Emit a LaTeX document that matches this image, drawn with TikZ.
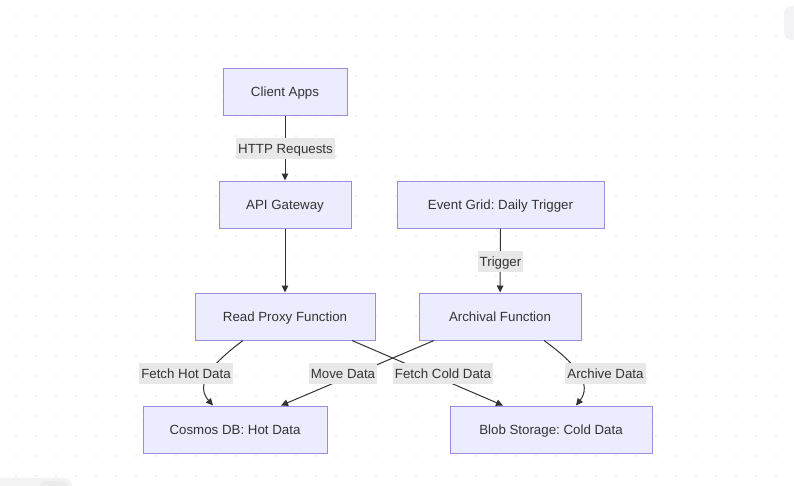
\documentclass[tikz,border=0pt]{standalone}
\usepackage{fontspec}
\setmainfont{Liberation Sans}
\frenchspacing
\usetikzlibrary{arrows.meta}
\definecolor{nodefill}{HTML}{ECECFF}
\definecolor{nodeline}{HTML}{A08AE0}
\definecolor{edgecol}{HTML}{333333}
\definecolor{lblfill}{HTML}{E8E8E8}
\definecolor{dotcol}{HTML}{E2E2E2}
\definecolor{txtcol}{HTML}{333333}
\tikzset{
  box/.style={draw=nodeline, fill=nodefill, line width=1pt, minimum height=47pt,
    inner sep=0pt, text height=9.6pt, text depth=0pt,
    font=\fontsize{13.3}{16}\selectfont, text=txtcol},
  lbl/.style={fill=lblfill, inner xsep=2pt, inner ysep=0pt, minimum height=21pt,
    text height=9.6pt, text depth=0pt,
    font=\fontsize{13.3}{16}\selectfont, text=txtcol},
  edge/.style={draw=edgecol, line width=1pt, -{Triangle[length=7pt,width=6.5pt]}},
}
\begin{document}
\begin{tikzpicture}[x=1pt,y=-1pt]
\useasboundingbox (0,0) rectangle (794,485);
\fill[white] (0,0) rectangle (794,485);
\foreach \gx in {16,36,...,796} {
  \foreach \gy in {16,36,...,476} {
    \fill[dotcol] (\gx,\gy) circle (0.8);
  }
}
\fill[fill={rgb,255:red,242;green,242;blue,247}, rounded corners=8pt] (784,6) rectangle (805,40);
\fill[fill={rgb,255:red,243;green,243;blue,243}, rounded corners=8pt] (-10,478) rectangle (72,495);
\fill[fill={rgb,255:red,236;green,236;blue,236}, rounded corners=6pt] (40,481) rectangle (68,495);

\node[box, minimum width=124pt] (ca) at (285,92) {Client Apps};
\node[box, minimum width=132pt] (ag) at (285,204.5) {API Gateway};
\node[box, minimum width=207pt] (eg) at (500.5,204.5) {Event Grid: Daily Trigger};
\node[box, minimum width=180pt] (rp) at (285,316.5) {Read Proxy Function};
\node[box, minimum width=162pt] (af) at (500,316.5) {Archival Function};
\node[box, minimum width=184pt] (cd) at (235,429.5) {Cosmos DB: Hot Data};
\node[box, minimum width=202pt] (bs) at (551,429.5) {Blob Storage: Cold Data};

\draw[edge] (ca) -- (ag);
\draw[edge] (ag) -- (rp);
\draw[edge] (eg) -- (af);
\draw[edge] ([xshift=-42pt]rp.south) .. controls (210,365) and (195,385) .. ([xshift=-22pt]cd.north);
\draw[edge] ([xshift=67pt]rp.south) -- ([xshift=-48pt]bs.north);
\draw[edge] ([xshift=-66pt]af.south) -- ([xshift=46pt]cd.north);
\draw[edge] ([xshift=44pt]af.south) .. controls (578,365) and (592,385) .. ([xshift=25pt]bs.north);

\node[lbl] (l1) at (285.5,148.5) {HTTP Requests};
\node[lbl] (l2) at (500.5,261.5) {Trigger};
\node[lbl] (l3) at (186,373.5) {Fetch Hot Data};
\node[lbl] (l4) at (343,373.5) {Move Data};
\node[lbl] (l5) at (443,373.5) {Fetch Cold Data};
\node[lbl] (l6) at (605.5,373.5) {Archive Data};
\end{tikzpicture}
\end{document}
